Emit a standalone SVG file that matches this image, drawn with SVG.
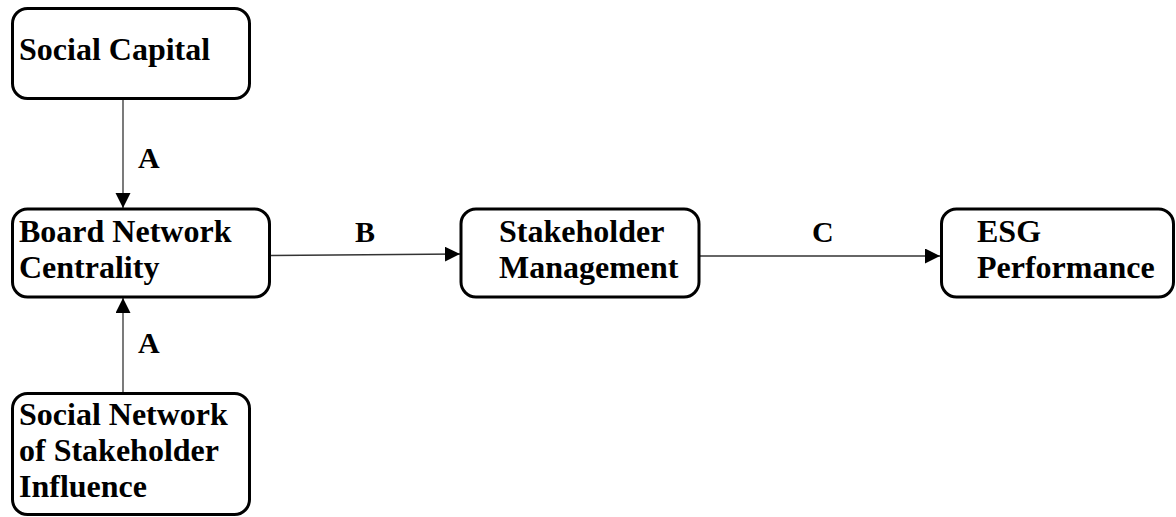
<svg xmlns="http://www.w3.org/2000/svg" width="1176" height="517" viewBox="0 0 1176 517">
<style>
.box{fill:#fff;stroke:#000;stroke-width:3}
.t{font-family:"Liberation Serif","Times New Roman",serif;font-weight:bold;font-size:32px;fill:#000}
.lbl{font-family:"Liberation Serif","Times New Roman",serif;font-weight:bold;font-size:30px;fill:#000}
.c{stroke:#333;stroke-width:1.3;fill:none}
</style>
<defs>
<marker id="ah" markerWidth="16" markerHeight="16" refX="15" refY="7.5" orient="auto" markerUnits="userSpaceOnUse">
<path d="M0,0 L15,7.5 L0,15 Z" fill="#000"/>
</marker>
</defs>
<rect width="1176" height="517" fill="#fff"/>
<g id="connectors">
<line class="c" x1="123" y1="99" x2="123" y2="208" marker-end="url(#ah)"/>
<line class="c" x1="123" y1="393" x2="123" y2="298" marker-end="url(#ah)"/>
<line class="c" x1="271" y1="255.5" x2="460" y2="254" marker-end="url(#ah)"/>
<line class="c" x1="699" y1="256" x2="940" y2="256" marker-end="url(#ah)"/>
<text class="lbl" x="138" y="168">A</text>
<text class="lbl" x="138" y="353">A</text>
<text class="lbl" x="355" y="242">B</text>
<text class="lbl" x="812" y="242">C</text>
</g>
<g id="social-capital">
<rect class="box" x="12.5" y="8.5" width="237" height="90" rx="15"/>
<text class="t" x="19" y="60">Social Capital</text>
</g>
<g id="board-network-centrality">
<rect class="box" x="12.5" y="209" width="257" height="88" rx="15"/>
<text class="t" x="19" y="242">Board Network</text>
<text class="t" x="19" y="278">Centrality</text>
</g>
<g id="social-network">
<rect class="box" x="12.5" y="393.5" width="237" height="121" rx="15"/>
<text class="t" x="19" y="425">Social Network</text>
<text class="t" x="19" y="461">of Stakeholder</text>
<text class="t" x="19" y="497">Influence</text>
</g>
<g id="stakeholder-management">
<rect class="box" x="461" y="209" width="238" height="88" rx="15"/>
<text class="t" x="499" y="242">Stakeholder</text>
<text class="t" x="499" y="278">Management</text>
</g>
<g id="esg-performance">
<rect class="box" x="941.5" y="209" width="232" height="88" rx="15"/>
<text class="t" x="977" y="242">ESG</text>
<text class="t" x="977" y="278">Performance</text>
</g>
</svg>
